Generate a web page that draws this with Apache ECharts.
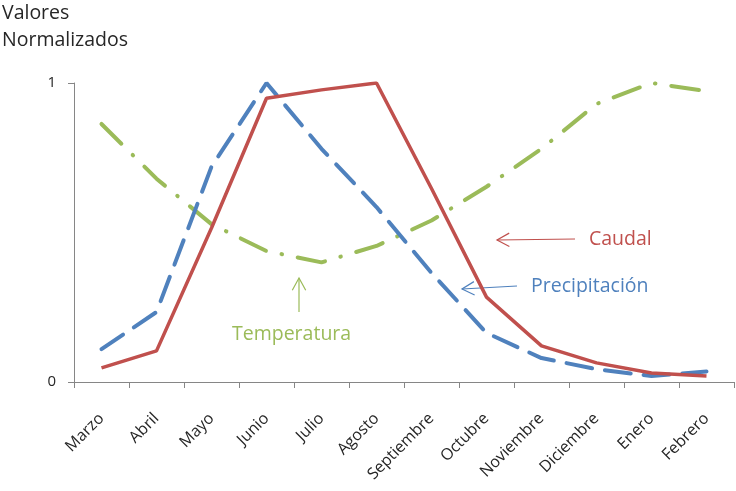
<!DOCTYPE html>
<html>
<head>
<meta charset="utf-8">
<script src="https://cdn.jsdelivr.net/npm/echarts@6/dist/echarts.min.js"></script>
<style>
  html, body { margin: 0; padding: 0; background: #fff; }
  #chart { width: 736px; height: 491px; }
</style>
</head>
<body>
<div id="chart"></div>
<script>
// Monthly normalized values (hydrological year, March to February)
const months = ['Marzo', 'Abril', 'Mayo', 'Junio', 'Julio', 'Agosto', 'Septiembre',
                'Octubre', 'Noviembre', 'Diciembre', 'Enero', 'Febrero'];
const caudal = [0.047, 0.104, 0.515, 0.949, 0.977, 1.0, 0.647, 0.284, 0.121, 0.064, 0.030, 0.020];
const precipitacion = [0.110, 0.234, 0.72, 1.0, 0.78, 0.585, 0.365, 0.164, 0.08, 0.043, 0.020, 0.035];
const temperatura = [0.863, 0.68, 0.528, 0.438, 0.40, 0.455, 0.54, 0.653, 0.78, 0.93, 1.0, 0.973];
const yTicks = [0, 1];

const RED = '#C0504D', BLUE = '#4F81BD', GREEN = '#9BBB59';
const FONT = '"Open Sans", sans-serif';
const TEXT = '#262626';

const chart = echarts.init(document.getElementById('chart'));

// open arrow drawn as a shaft plus two barbs
function arrow(x1, y1, x2, y2, color) {
  const ang = Math.atan2(y2 - y1, x2 - x1);
  const L = 14, W = 0.5;
  const b1 = [x2 - L * Math.cos(ang - W), y2 - L * Math.sin(ang - W)];
  const b2 = [x2 - L * Math.cos(ang + W), y2 - L * Math.sin(ang + W)];
  return [
    { type: 'line', shape: { x1, y1, x2, y2 }, style: { stroke: color, lineWidth: 1.2 } },
    { type: 'polyline', shape: { points: [b1, [x2, y2], b2] }, style: { stroke: color, lineWidth: 1.2, fill: null } }
  ];
}

function label(text, x, y, color) {
  return { type: 'text', x, y, style: { text, fill: color, font: '19.5px ' + FONT, textVerticalAlign: 'middle' } };
}

chart.setOption({
  animation: false,
  backgroundColor: '#fff',
  title: {
    text: 'Valores\nNormalizados',
    left: 2, top: 0, padding: 0,
    textStyle: { fontFamily: FONT, fontSize: 19.5, fontWeight: 'normal', color: TEXT, lineHeight: 27 }
  },
  grid: { left: 74, right: 2, top: 83, bottom: 109 },
  xAxis: {
    type: 'category',
    data: months,
    boundaryGap: true,
    axisLine: { lineStyle: { color: '#868686', width: 1 } },
    axisTick: { show: true, length: 6, lineStyle: { color: '#868686' } },
    axisLabel: { rotate: 45, interval: 0, fontFamily: FONT, fontSize: 16, color: TEXT, margin: 34 }
  },
  yAxis: {
    type: 'value',
    min: yTicks[0], max: yTicks[yTicks.length - 1], interval: 1,
    splitLine: { show: false },
    axisLine: { show: true, lineStyle: { color: '#868686', width: 1 } },
    axisTick: { show: true, length: 6, lineStyle: { color: '#868686' } },
    axisLabel: { fontFamily: FONT, fontSize: 15, color: TEXT, margin: 18 }
  },
  series: [
    {
      name: 'Temperatura', type: 'line', data: temperatura, symbol: 'none',
      lineStyle: { color: GREEN, width: 4, type: [28, 16, 0.5, 16], cap: 'round' }
    },
    {
      name: 'Precipitación', type: 'line', data: precipitacion, symbol: 'none',
      lineStyle: { color: BLUE, width: 4, type: [26, 13], cap: 'round' }
    },
    {
      name: 'Caudal', type: 'line', data: caudal, symbol: 'none',
      lineStyle: { color: RED, width: 3.5 }
    }
  ],
  graphic: [
    ...arrow(575, 239, 497, 240, RED),
    label('Caudal', 589, 239, RED),
    ...arrow(517, 286, 462, 289, BLUE),
    label('Precipitación', 531, 286, BLUE),
    ...arrow(299, 312, 299, 278, GREEN),
    label('Temperatura', 232, 334, GREEN)
  ]
});
</script>
</body>
</html>
